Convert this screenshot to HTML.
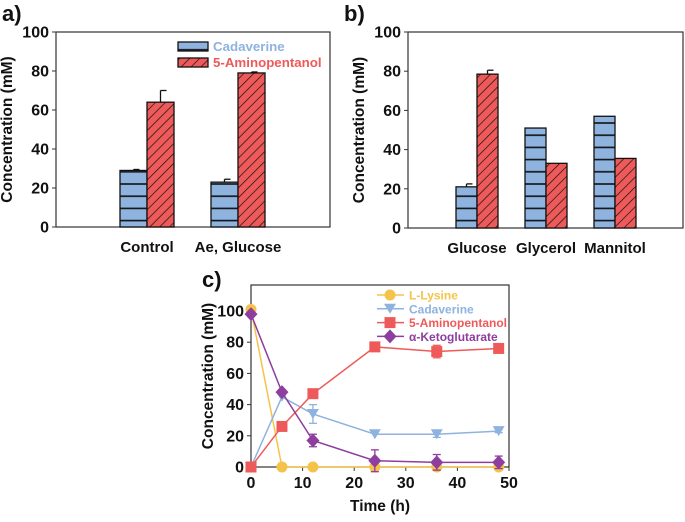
<!DOCTYPE html>
<html><head><meta charset="utf-8"><style>
body{margin:0;background:#fff;width:685px;height:517px;overflow:hidden}
svg text{font-family:"Liberation Sans",Arial,sans-serif;font-weight:bold}
</style></head><body>
<svg id="s" width="685" height="517">
<defs>
<pattern id="hz" patternUnits="userSpaceOnUse" width="8" height="12.2"><rect width="8" height="12.2" fill="#8db3de"/><line x1="0" y1="1" x2="8" y2="1" stroke="#111" stroke-width="1.6"/></pattern>
<pattern id="dg" patternUnits="userSpaceOnUse" width="7" height="7" patternTransform="rotate(45)"><rect width="7" height="7" fill="#ee5a5a"/><line x1="0" y1="0" x2="0" y2="7" stroke="#111" stroke-width="1.4"/></pattern>
</defs>
</svg>
<script>
const aCats=["Control","Ae, Glucose"];
const aCad=[29,23], aCadErr=[0.5,1.5];
const aAmi=[64,79], aAmiErr=[6,0.5];
const bCats=["Glucose","Glycerol","Mannitol"];
const bCad=[21,51,57], bCadErr=[1.5,0,0];
const bAmi=[78.5,33,35.5], bAmiErr=[2,0,0];
const yTicks=[0,20,40,60,80,100];
const cTime=[0,6,12,24,36,48];
const cLys=[101,0,0,0,0,0];
const cCad=[0,45,34,21,21,23], cCadErr=[0,0,6,0,2,1];
const cAmi=[0,26,47,77,74,76], cAmiErr=[0,0,0,0,4,0];
const cAkg=[98,48,17,4,3,3], cAkgErr=[0,0,4,7,5,4];
const xTicks=[0,10,20,30,40,50];
const S=document.getElementById('s'),NS="http://www.w3.org/2000/svg";
function E(t,a,txt){const e=document.createElementNS(NS,t);for(const k in a)e.setAttribute(k,a[k]);if(txt!==undefined)e.textContent=txt;S.appendChild(e);return e;}
function axesBox(L,R,T,B,y,name,lab){
  const r=E('rect',{x:L,y:T,width:R-L,height:B-T,fill:'none',stroke:'#333','stroke-width':1.2});
  
  yTicks.forEach(v=>{E('line',{x1:L-4,x2:L,y1:y(v),y2:y(v),stroke:'#333'});
    const t=E('text',{x:L-7,y:y(v)+5.5,'text-anchor':'end','font-size':16,fill:'#111'},v);
    });
  const t=E('text',{transform:`translate(${lab},${(T+B)/2}) rotate(-90)`,'text-anchor':'middle','font-size':15.5,fill:'#111'},'Concentration (mM)');
  
}
function bars(cats,cad,cadE,ami,amiE,L,R,T,B,x0,pitch,w,name,lab){
  const y=v=>B-(B-T)*v/100;
  axesBox(L,R,T,B,y,name,lab);
  cats.forEach((c,i)=>{
    const cx=x0+i*pitch;
    [[cad[i],cadE[i],'url(#hz)',cx-w,'cadaverine'],[ami[i],amiE[i],'url(#dg)',cx,'aminopentanol']].forEach(([v,e,f,x,n])=>{
      if(e>0){E('line',{x1:x+w/2,x2:x+w/2,y1:y(v),y2:y(v+e),stroke:'#111','stroke-width':1.3});E('line',{x1:x+w/2,x2:x+w/2+6,y1:y(v+e),y2:y(v+e),stroke:'#111','stroke-width':1.3});}
      const r=E('rect',{x:x,y:y(v),width:w,height:y(0)-y(v),fill:f,stroke:'#111','stroke-width':1.3});
      
    });
    const t=E('text',{x:cx,y:B+25,'text-anchor':'middle','font-size':15,fill:'#111'},c);
    
  });
}
bars(aCats,aCad,aCadErr,aAmi,aAmiErr,56,330,32,227,147,91,27,'panel-a',12);
bars(bCats,bCad,bCadErr,bAmi,bAmiErr,408,683,32,228,477,69,21,'panel-b',364);
[['a)',2,21],['b)',344,21],['c)',202,287]].forEach(([s,x,yy])=>{const t=E('text',{x:x,y:yy,'font-size':22,fill:'#111'},s);});
let lr=E('rect',{x:178,y:42,width:30,height:9,fill:'url(#hz)',stroke:'#111','stroke-width':1.3});

lr=E('rect',{x:178,y:58,width:30,height:9,fill:'url(#dg)',stroke:'#111','stroke-width':1.3});

let lt=E('text',{x:213,y:51,'font-size':13.3,fill:'#8db3de'},'Cadaverine');
lt=E('text',{x:213,y:67,'font-size':13.3,fill:'#ee5a5a'},'5-Aminopentanol');
const L=251,R=509,T=285,B=467;
const yc=v=>B-(B-311)*v/100, xc=v=>L+(R-L)*v/50;
axesBox(L,R,T,B,yc,'panel-c',213);
xTicks.forEach(v=>{E('line',{x1:xc(v),x2:xc(v),y1:B,y2:B+4,stroke:'#333'});const t=E('text',{x:xc(v),y:B+21,'text-anchor':'middle','font-size':16,fill:'#111'},v);});
lt=E('text',{x:380,y:511,'text-anchor':'middle','font-size':15.5,fill:'#111'},'Time (h)');
function marker(sh,x,y,col){
  if(sh==='c')return E('circle',{cx:x,cy:y,r:5.5,fill:col});
  if(sh==='s')return E('rect',{x:x-5.5,y:y-5.5,width:11,height:11,fill:col});
  if(sh==='t')return E('polygon',{points:`${x-6},${y-5} ${x+6},${y-5} ${x},${y+5}`,fill:col});
  return E('polygon',{points:`${x},${y-7} ${x+6.5},${y} ${x},${y+7} ${x-6.5},${y}`,fill:col});
}
const series=[['lysine',cLys,null,'#f5c34a','c'],['cadaverine',cCad,cCadErr,'#8db3de','t'],['aminopentanol',cAmi,cAmiErr,'#ee5a5a','s'],['ketoglutarate',cAkg,cAkgErr,'#8e3e9e','d']];
series.forEach(([n,d,er,col,sh])=>{
  const p=E('polyline',{points:d.map((v,i)=>xc(cTime[i])+','+yc(v)).join(' '),fill:'none',stroke:col,'stroke-width':1.5});
  
  d.forEach((v,i)=>{
    if(er&&er[i]>0){E('line',{x1:xc(cTime[i]),x2:xc(cTime[i]),y1:yc(v-er[i]),y2:yc(v+er[i]),stroke:col,'stroke-width':1.3});
      [v-er[i],v+er[i]].forEach(q=>E('line',{x1:xc(cTime[i])-4,x2:xc(cTime[i])+4,y1:yc(q),y2:yc(q),stroke:col,'stroke-width':1.3}));}
    const m=marker(sh,xc(cTime[i]),yc(v),col);
  });
});
[['L-Lysine',0],['Cadaverine',1],['5-Aminopentanol',2],['\u03b1-Ketoglutarate',3]].forEach(([s,i])=>{
  const yy=295+i*13.8,col=series[i][3];
  E('line',{x1:377,x2:404,y1:yy,y2:yy,stroke:col,'stroke-width':1.5});
  marker(series[i][4],390,yy,col);
  const t=E('text',{x:409,y:yy+4.5,'font-size':12,fill:col},s);
});
</script>
</body></html>
